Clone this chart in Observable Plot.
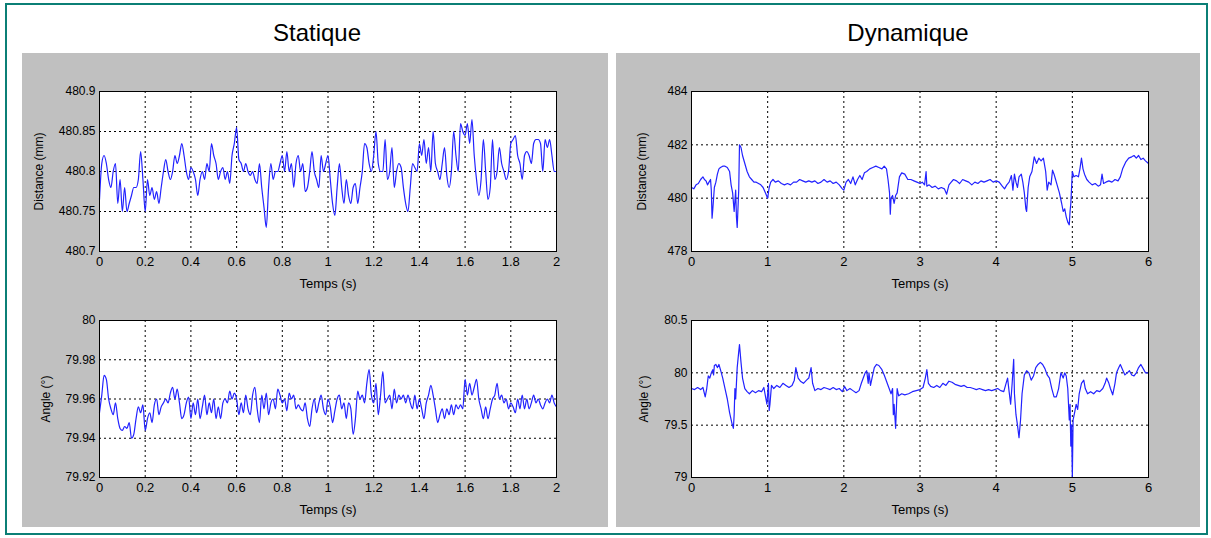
<!DOCTYPE html>
<html><head><meta charset="utf-8">
<script src="https://cdn.jsdelivr.net/npm/d3@7"></script>
<script src="https://cdn.jsdelivr.net/npm/@observablehq/plot@0.6"></script>
<style>
body{margin:0;background:#fff;}
#root{position:relative;width:1211px;height:538px;overflow:hidden;font-family:"Liberation Sans",Arial,sans-serif;background:#fff;}
.border{position:absolute;left:5px;top:3px;width:1199px;height:528px;border:2px solid #0b7f76;box-sizing:content-box;}
.panel{position:absolute;background:#c0c0c0;}
.title{position:absolute;font-size:24px;text-align:center;color:#000;}
.plot{position:absolute;}
</style></head><body>
<div id="root">
  <div class="border"></div>
  <div class="panel" style="left:22px;top:53px;width:586px;height:474px"></div>
  <div class="panel" style="left:616px;top:53px;width:584px;height:474px"></div>
  <div class="title" style="left:22px;top:19px;width:590px">Statique</div>
  <div class="title" style="left:616px;top:19px;width:584px">Dynamique</div>
</div>
<script>
// ---- Data ----
const staticDuration = 2; // s, evenly sampled
const staticDistance = [
480.765,480.81,480.82,480.81,480.79,480.78,480.80,480.81,480.76,480.79,
480.75,480.78,480.75,480.76,480.77,480.78,480.78,480.79,480.825,480.79,
480.75,480.79,480.77,480.78,480.765,480.775,480.76,480.78,480.80,480.815,
480.80,480.79,480.80,480.82,480.81,480.82,480.835,480.82,480.80,480.79,
480.805,480.80,480.79,480.77,480.79,480.80,480.79,480.81,480.80,480.835,
480.82,480.81,480.79,480.80,480.805,480.79,480.80,480.785,480.82,480.835,
480.855,480.815,480.81,480.80,480.81,480.80,480.795,480.80,480.79,480.785,
480.81,480.78,480.755,480.73,480.78,480.81,480.79,480.80,480.80,480.81,
480.82,480.80,480.825,480.80,480.81,480.78,480.81,480.82,480.80,480.81,
480.775,480.78,480.80,480.825,480.80,480.79,480.78,480.82,480.80,480.81,
480.82,480.79,480.76,480.745,480.78,480.81,480.78,480.76,480.79,480.77,
480.76,480.78,480.785,480.76,480.78,480.80,480.835,480.83,480.81,480.80,
480.82,480.85,480.81,480.80,480.80,480.84,480.79,480.80,480.83,480.78,
480.80,480.81,480.805,480.78,480.76,480.75,480.78,480.81,480.805,480.80,
480.835,480.82,480.84,480.81,480.83,480.80,480.85,480.81,480.80,480.79,
480.81,480.83,480.795,480.78,480.80,480.85,480.82,480.80,480.86,480.85,
480.845,480.86,480.835,480.865,480.82,480.79,480.77,480.79,480.84,480.80,
480.765,480.78,480.84,480.79,480.80,480.83,480.81,480.80,480.79,480.80,
480.835,480.84,480.845,480.82,480.81,480.79,480.82,480.825,480.82,480.81,
480.835,480.84,480.84,480.835,480.80,480.84,480.83,480.84,480.82,480.80,
480.80];
const staticAngle = [
79.953,79.962,79.972,79.970,79.960,79.955,79.952,79.958,79.950,79.945,
79.944,79.946,79.945,79.948,79.940,79.942,79.950,79.956,79.953,79.957,
79.944,79.950,79.953,79.948,79.957,79.960,79.952,79.956,79.958,79.960,
79.958,79.963,79.966,79.960,79.965,79.958,79.950,79.952,79.958,79.961,
79.950,79.958,79.952,79.960,79.950,79.956,79.962,79.952,79.958,79.953,
79.960,79.950,79.956,79.950,79.958,79.960,79.958,79.964,79.960,79.963,
79.960,79.952,79.958,79.953,79.962,79.955,79.952,79.962,79.966,79.955,
79.948,79.962,79.955,79.963,79.952,79.958,79.960,79.955,79.965,79.962,
79.958,79.960,79.954,79.963,79.960,79.962,79.955,79.957,79.955,79.954,
79.958,79.950,79.946,79.955,79.960,79.953,79.958,79.962,79.955,79.952,
79.960,79.956,79.948,79.954,79.960,79.962,79.955,79.958,79.950,79.958,
79.955,79.942,79.950,79.964,79.960,79.962,79.958,79.968,79.975,79.962,
79.958,79.968,79.952,79.962,79.974,79.958,79.960,79.962,79.955,79.965,
79.958,79.962,79.960,79.962,79.958,79.962,79.958,79.955,79.962,79.955,
79.960,79.955,79.950,79.958,79.962,79.967,79.962,79.955,79.948,79.952,
79.955,79.950,79.955,79.952,79.957,79.952,79.957,79.955,79.957,79.955,
79.970,79.962,79.968,79.962,79.966,79.970,79.960,79.955,79.950,79.956,
79.950,79.955,79.960,79.962,79.968,79.960,79.962,79.958,79.960,79.955,
79.958,79.956,79.953,79.960,79.955,79.962,79.955,79.960,79.955,79.958,
79.962,79.958,79.960,79.957,79.955,79.958,79.960,79.958,79.962,79.958,
79.956];

// [time (s), distance (mm)]
const dynDistance = [
[0,480.4],[0.03,480.35],[0.06,480.5],[0.09,480.55],[0.12,480.7],[0.15,480.8],[0.17,480.7],[0.19,480.65],[0.21,480.5],[0.23,480.6],
[0.25,480.7],[0.26,480.3],[0.27,479.25],[0.28,479.6],[0.30,480.4],[0.32,480.6],[0.34,480.9],[0.36,481.1],[0.38,481.15],[0.41,481.2],
[0.44,481.2],[0.47,481.15],[0.50,481.0],[0.52,480.5],[0.54,480.2],[0.56,479.5],[0.57,479.9],[0.58,480.3],[0.59,479.3],[0.60,478.9],
[0.61,479.6],[0.62,480.3],[0.63,482.0],[0.65,481.9],[0.67,481.6],[0.70,481.3],[0.73,481.0],[0.76,480.8],[0.79,480.7],[0.82,480.6],
[0.85,480.6],[0.88,480.55],[0.91,480.5],[0.94,480.4],[0.97,480.2],[1.00,480.0],[1.02,480.4],[1.04,480.6],[1.07,480.7],[1.10,480.6],
[1.14,480.65],[1.18,480.55],[1.22,480.5],[1.26,480.55],[1.30,480.5],[1.34,480.6],[1.38,480.6],[1.42,480.7],[1.46,480.65],[1.50,480.6],
[1.54,480.65],[1.58,480.6],[1.62,480.65],[1.66,480.55],[1.70,480.6],[1.74,480.7],[1.78,480.6],[1.82,480.65],[1.86,480.55],[1.90,480.6],
[1.94,480.5],[1.98,480.35],[2.00,480.3],[2.03,480.6],[2.06,480.7],[2.09,480.55],[2.12,480.8],[2.15,480.5],[2.18,480.7],[2.21,480.85],
[2.24,480.7],[2.27,480.95],[2.30,481.0],[2.34,481.1],[2.38,481.15],[2.42,481.2],[2.46,481.15],[2.50,481.1],[2.53,481.2],[2.56,481.1],
[2.58,480.7],[2.60,480.2],[2.61,479.4],[2.62,480.0],[2.64,480.1],[2.66,479.8],[2.68,480.1],[2.70,480.2],[2.73,480.8],[2.76,480.95],
[2.80,480.9],[2.84,480.7],[2.88,480.7],[2.92,480.65],[2.96,480.6],[3.00,480.55],[3.03,480.6],[3.06,480.5],[3.08,481.0],[3.09,480.45],
[3.12,480.5],[3.16,480.4],[3.20,480.45],[3.24,480.35],[3.28,480.4],[3.32,480.35],[3.35,480.15],[3.38,480.5],[3.41,480.6],[3.44,480.7],
[3.48,480.65],[3.52,480.55],[3.56,480.7],[3.60,480.65],[3.64,480.6],[3.68,480.5],[3.72,480.6],[3.76,480.55],[3.80,480.65],[3.84,480.6],
[3.88,480.65],[3.92,480.7],[3.96,480.6],[4.00,480.65],[4.04,480.6],[4.08,480.45],[4.11,480.35],[4.14,480.5],[4.17,480.6],[4.20,480.85],
[4.22,480.3],[4.24,480.9],[4.26,480.6],[4.28,480.4],[4.30,480.8],[4.33,480.9],[4.35,480.6],[4.37,480.2],[4.39,479.6],[4.40,479.5],
[4.42,480.4],[4.44,480.8],[4.47,481.0],[4.50,481.55],[4.53,481.3],[4.56,481.5],[4.59,481.4],[4.62,481.5],[4.65,481.0],[4.67,480.3],
[4.69,480.6],[4.72,480.5],[4.74,481.05],[4.76,480.9],[4.78,480.7],[4.80,480.5],[4.83,480.2],[4.86,479.8],[4.88,479.5],[4.90,479.6],
[4.92,479.3],[4.94,479.1],[4.96,479.0],[4.97,479.5],[4.98,479.8],[4.99,480.4],[5.00,481.0],[5.02,480.8],[5.05,480.85],[5.08,480.8],
[5.10,481.1],[5.12,481.5],[5.14,481.1],[5.16,480.9],[5.19,480.7],[5.22,480.6],[5.26,480.5],[5.30,480.55],[5.34,480.45],[5.37,480.5],
[5.39,480.9],[5.41,480.55],[5.44,480.6],[5.48,480.65],[5.52,480.6],[5.56,480.7],[5.60,480.65],[5.63,480.8],[5.66,481.1],[5.70,481.35],
[5.74,481.5],[5.78,481.55],[5.81,481.6],[5.84,481.5],[5.87,481.6],[5.90,481.45],[5.93,481.5],[5.96,481.4],[6.00,481.3]];

// [time (s), angle (°)]
const dynAngle = [
[0,79.85],[0.04,79.84],[0.08,79.86],[0.12,79.84],[0.15,79.86],[0.18,79.77],[0.20,79.85],[0.22,79.97],[0.24,79.95],[0.26,80.0],
[0.28,80.03],[0.29,79.98],[0.30,80.07],[0.32,80.08],[0.34,80.05],[0.36,80.08],[0.38,80.03],[0.41,79.95],[0.44,79.85],[0.47,79.75],
[0.50,79.62],[0.53,79.52],[0.55,79.47],[0.56,79.6],[0.57,79.85],[0.58,79.75],[0.60,80.05],[0.62,80.2],[0.63,80.27],[0.65,80.1],
[0.67,79.95],[0.70,79.85],[0.73,79.82],[0.76,79.8],[0.80,79.83],[0.84,79.81],[0.88,79.83],[0.92,79.82],[0.95,79.86],[0.97,79.78],
[0.99,79.7],[1.01,79.9],[1.02,79.64],[1.03,79.7],[1.05,79.88],[1.08,79.85],[1.12,79.88],[1.16,79.86],[1.20,79.9],[1.24,79.88],
[1.28,79.86],[1.32,79.88],[1.35,79.93],[1.37,80.05],[1.40,79.95],[1.43,79.92],[1.47,79.9],[1.51,79.93],[1.54,79.95],[1.57,80.05],
[1.59,79.9],[1.62,79.83],[1.66,79.85],[1.70,79.84],[1.74,79.86],[1.78,79.85],[1.82,79.84],[1.86,79.86],[1.90,79.84],[1.94,79.85],
[1.98,79.82],[2.01,79.87],[2.04,79.83],[2.08,79.85],[2.12,79.83],[2.16,79.81],[2.20,79.83],[2.23,79.9],[2.26,79.96],[2.28,80.0],
[2.30,80.02],[2.32,79.9],[2.33,80.0],[2.35,79.88],[2.37,79.95],[2.40,80.05],[2.43,80.08],[2.46,80.07],[2.50,80.03],[2.53,79.98],
[2.56,79.92],[2.59,79.86],[2.62,79.8],[2.64,79.85],[2.65,79.6],[2.66,79.7],[2.68,79.47],[2.70,79.85],[2.72,79.78],[2.76,79.8],
[2.80,79.79],[2.85,79.8],[2.90,79.82],[2.95,79.83],[3.00,79.84],[3.04,79.86],[3.07,79.95],[3.09,80.03],[3.11,79.9],[3.14,79.87],
[3.18,79.86],[3.22,79.88],[3.26,79.86],[3.30,79.9],[3.34,79.88],[3.38,79.92],[3.42,79.91],[3.46,79.89],[3.50,79.88],[3.54,79.87],
[3.58,79.88],[3.62,79.86],[3.66,79.86],[3.70,79.85],[3.74,79.84],[3.78,79.85],[3.82,79.84],[3.86,79.83],[3.90,79.84],[3.94,79.83],
[3.98,79.84],[4.02,79.85],[4.06,79.83],[4.10,79.82],[4.13,79.9],[4.15,79.95],[4.17,79.82],[4.19,79.7],[4.21,79.9],[4.23,80.13],
[4.24,79.8],[4.26,79.6],[4.28,79.5],[4.30,79.38],[4.32,79.55],[4.34,79.8],[4.37,79.98],[4.40,80.02],[4.43,80.0],[4.46,79.93],
[4.49,79.97],[4.52,80.05],[4.55,80.08],[4.58,80.1],[4.61,80.08],[4.64,80.04],[4.67,79.98],[4.70,79.95],[4.73,79.85],[4.76,79.77],
[4.79,79.77],[4.82,79.85],[4.85,80.0],[4.88,79.95],[4.90,80.0],[4.92,79.97],[4.94,79.85],[4.96,79.55],[4.97,79.7],[4.98,79.3],
[4.99,79.5],[5.00,79.0],[5.01,79.55],[5.03,79.62],[5.05,79.7],[5.07,79.65],[5.09,79.8],[5.12,79.9],[5.15,79.93],[5.17,79.85],
[5.20,79.8],[5.24,79.82],[5.28,79.8],[5.32,79.83],[5.36,79.82],[5.40,79.85],[5.43,79.9],[5.45,79.95],[5.48,79.9],[5.50,79.85],
[5.53,79.79],[5.56,79.9],[5.58,80.0],[5.61,80.05],[5.63,80.08],[5.66,80.03],[5.69,79.98],[5.72,80.0],[5.75,80.02],[5.78,79.98],
[5.81,79.97],[5.84,80.0],[5.87,80.05],[5.90,80.08],[5.93,80.04],[5.96,80.0],[6.00,80.0]];

const staticTimeTicks = [0,0.2,0.4,0.6,0.8,1,1.2,1.4,1.6,1.8,2];
const dynTimeTicks = [0,1,2,3,4,5,6];
const staticDistanceTicks = [480.7,480.75,480.8,480.85,480.9];
const staticAngleTicks = [79.92,79.94,79.96,79.98,80];
const dynDistanceTicks = [478,480,482,484];
const dynAngleTicks = [79,79.5,80,80.5];
const xLabel = "Temps (s)";
const distanceLabel = "Distance (mm)";
const angleLabel = "Angle (°)";

// ---- Build ----
const evenly = (vals, dur) => vals.map((y, i) => ({x: i * dur / (vals.length - 1), y}));
const pairs = arr => arr.map(([x, y]) => ({x, y}));

const mL = 80, mR = 12, mT = 8, mB = 46;
function chart({data, curve, xTicks, yTicks, yLabel, frameLeft, frameTop, frameW, frameH, yLabelOffset}) {
  const fmt = d => String(d);
  const p = Plot.plot({
    width: frameW + mL + mR,
    height: frameH + mT + mB,
    marginLeft: mL, marginRight: mR, marginTop: mT, marginBottom: mB,
    style: {background: "transparent", fontFamily: '"Liberation Sans", Arial, sans-serif', fontSize: "12px", color: "#000", overflow: "visible"},
    x: {domain: [xTicks[0], xTicks[xTicks.length - 1]]},
    y: {domain: [yTicks[0], yTicks[yTicks.length - 1]]},
    marks: [
      Plot.frame({fill: "white", stroke: null}),
      Plot.gridX(xTicks, {stroke: "#000", strokeOpacity: 1, strokeDasharray: "2,3", strokeWidth: 1}),
      Plot.gridY(yTicks, {stroke: "#000", strokeOpacity: 1, strokeDasharray: "2,3", strokeWidth: 1}),
      Plot.line(data, {x: "x", y: "y", stroke: "#2222ff", strokeWidth: 1.2, curve}),
      Plot.frame({stroke: "#000", strokeWidth: 1}),
      Plot.axisX({ticks: xTicks, tickFormat: fmt, tickSize: 0, tickPadding: 5, fontSize: 13,
        label: xLabel, labelAnchor: "center", labelArrow: "none", labelOffset: 36}),
      Plot.axisY({ticks: yTicks, tickFormat: fmt, tickSize: 0, tickPadding: 4, fontSize: 12,
        label: yLabel, labelAnchor: "center", labelArrow: "none", labelOffset: yLabelOffset})
    ]
  });
  p.classList.add("plot");
  p.style.position = "absolute";
  p.style.left = (frameLeft - mL) + "px";
  p.style.top = (frameTop - mT) + "px";
  document.getElementById("root").appendChild(p);
}

chart({data: evenly(staticDistance, staticDuration), curve: "monotone-x", xTicks: staticTimeTicks, yTicks: staticDistanceTicks, yLabel: distanceLabel,
  frameLeft: 99, frameTop: 91, frameW: 457, frameH: 160, yLabelOffset: 65});
chart({data: evenly(staticAngle, staticDuration), curve: "monotone-x", xTicks: staticTimeTicks, yTicks: staticAngleTicks, yLabel: angleLabel,
  frameLeft: 99, frameTop: 320, frameW: 457, frameH: 157, yLabelOffset: 58});
chart({data: pairs(dynDistance), curve: "linear", xTicks: dynTimeTicks, yTicks: dynDistanceTicks, yLabel: distanceLabel,
  frameLeft: 691, frameTop: 91, frameW: 457, frameH: 160, yLabelOffset: 54});
chart({data: pairs(dynAngle), curve: "linear", xTicks: dynTimeTicks, yTicks: dynAngleTicks, yLabel: angleLabel,
  frameLeft: 691, frameTop: 320, frameW: 457, frameH: 157, yLabelOffset: 52});
</script>
</body></html>
